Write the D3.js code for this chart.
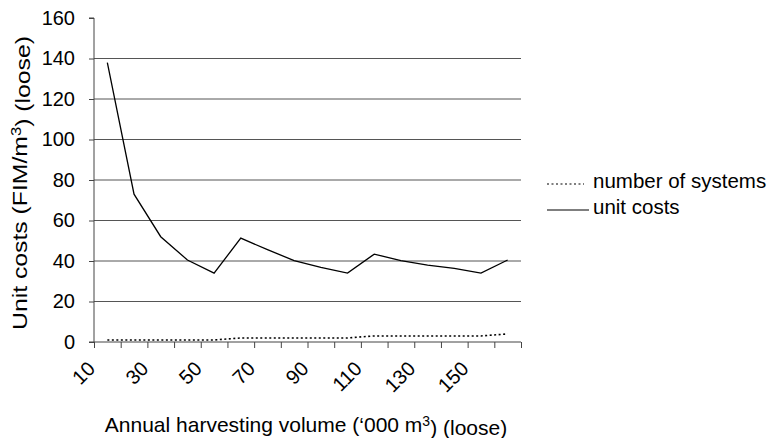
<!DOCTYPE html>
<html lang="en">
<head>
    <meta charset="UTF-8">
    <title>Unit costs</title>
    <script src="https://d3js.org/d3.v7.min.js"></script>
    <style>
        body { margin: 0; background: #fff; }
        text { font-family: "Liberation Sans", Arial, sans-serif; fill: #000; }
    </style>
</head>
<body>
    <div id="chart"></div>
    <script>
        // annual harvesting volume ('000 m3)
        const volumes = [10, 20, 30, 40, 50, 60, 70, 80, 90, 100, 110, 120, 130, 140, 150, 160];
        const unitCosts = [138, 73, 52, 40.5, 34, 51.3, 45.6, 40.2, 36.9, 34, 43.4, 40.2, 38, 36.4, 34, 40.5];
        const systems = [1, 1, 1, 1, 1, 2, 2, 2, 2, 2, 3, 3, 3, 3, 3, 4];
        const yTicks = [0, 20, 40, 60, 80, 100, 120, 140, 160];
        const shownLabels = [10, 30, 50, 70, 90, 110, 130, 150];

        const W = 782, H = 438;
        const plotLeft = 94, plotRight = 521, plotTop = 18, plotBottom = 342;

        const svg = d3.select("#chart").append("svg")
            .attr("width", W)
            .attr("height", H);

        const x = d3.scaleBand().domain(volumes).range([plotLeft, plotRight]).padding(0);
        const xEdge = d3.scaleLinear().domain([0, volumes.length]).range([plotLeft, plotRight]);
        const y = d3.scaleLinear().domain([0, 160]).range([plotBottom, plotTop]);
        const cx = d => x(d) + x.bandwidth() / 2;

        // gridlines
        svg.append("g")
            .selectAll("line")
            .data(yTicks.filter(d => d > 0 && d < 160))
            .join("line")
            .attr("x1", plotLeft).attr("x2", plotRight)
            .attr("y1", d => y(d)).attr("y2", d => y(d))
            .attr("stroke", "#555")
            .attr("stroke-width", 1);

        // y axis
        const yAxis = svg.append("g")
            .attr("transform", `translate(${plotLeft},0)`)
            .call(d3.axisLeft(y).tickValues(yTicks).tickSize(5).tickPadding(14));
        yAxis.select(".domain").attr("stroke", "#444").attr("d", `M-5,${plotTop}H0V${plotBottom}`);
        yAxis.selectAll(".tick line").attr("stroke", "#444");
        yAxis.selectAll(".tick text").style("font-size", "20px")
            .style("font-family", "'Liberation Sans', Arial, sans-serif").attr("fill", "#000");

        // x axis (ticks at the category edges)
        const xAxis = svg.append("g")
            .attr("transform", `translate(0,${plotBottom})`)
            .call(d3.axisBottom(xEdge).tickValues(d3.range(volumes.length + 1)).tickFormat("").tickSize(6).tickSizeOuter(0));
        xAxis.select(".domain").attr("stroke", "#444").attr("d", `M${plotLeft - 5},0H${plotRight}`);
        xAxis.selectAll(".tick line").attr("stroke", "#444");

        // x labels, rotated
        svg.append("g")
            .selectAll("text")
            .data(shownLabels)
            .join("text")
            .attr("transform", d => `translate(${cx(d) - 11},370) rotate(-45)`)
            .attr("text-anchor", "end")
            .style("font-size", "20px")
            .text(d => d);

        // lines
        const line = d3.line().x((d, i) => cx(volumes[i])).y(d => y(d));

        svg.append("path")
            .datum(systems)
            .attr("d", line)
            .attr("fill", "none")
            .attr("stroke", "#000")
            .attr("stroke-width", 1.6)
            .attr("stroke-dasharray", "2,2.5");

        svg.append("path")
            .datum(unitCosts)
            .attr("d", line)
            .attr("fill", "none")
            .attr("stroke", "#000")
            .attr("stroke-width", 1.3);

        // y title
        const yTitle = svg.append("text")
            .attr("transform", "translate(27,183) rotate(-90) scale(1.18,1)")
            .attr("text-anchor", "middle")
            .style("font-size", "21px");
        yTitle.append("tspan").text("Unit costs (FIM/m");
        yTitle.append("tspan").attr("dy", "-0.45em").style("font-size", "14px").text("3");
        yTitle.append("tspan").attr("dy", "0.45em").text(") (loose)");

        // x title
        const xTitle = svg.append("text")
            .attr("x", 306).attr("y", 432)
            .attr("text-anchor", "middle")
            .style("font-size", "21px");
        xTitle.append("tspan").text("Annual harvesting volume (\u2018000 m");
        xTitle.append("tspan").attr("dy", "-0.45em").style("font-size", "14px").text("3");
        xTitle.append("tspan").attr("dy", "0.45em").text(") (loose)");

        // legend
        const legendItems = [
            { name: "number of systems", dash: "2,2.5", yPos: 184, x2: 584 },
            { name: "unit costs", dash: null, yPos: 210, x2: 589 }
        ];
        const lg = svg.append("g").selectAll("g").data(legendItems).join("g");
        lg.append("line")
            .attr("x1", 547).attr("x2", d => d.x2)
            .attr("y1", d => d.yPos).attr("y2", d => d.yPos)
            .attr("stroke", "#000")
            .attr("stroke-width", 1.2)
            .attr("stroke-dasharray", d => d.dash);
        lg.append("text")
            .attr("x", 593).attr("y", d => d.yPos + 4)
            .style("font-size", "20.5px")
            .text(d => d.name);
    </script>
</body>
</html>
